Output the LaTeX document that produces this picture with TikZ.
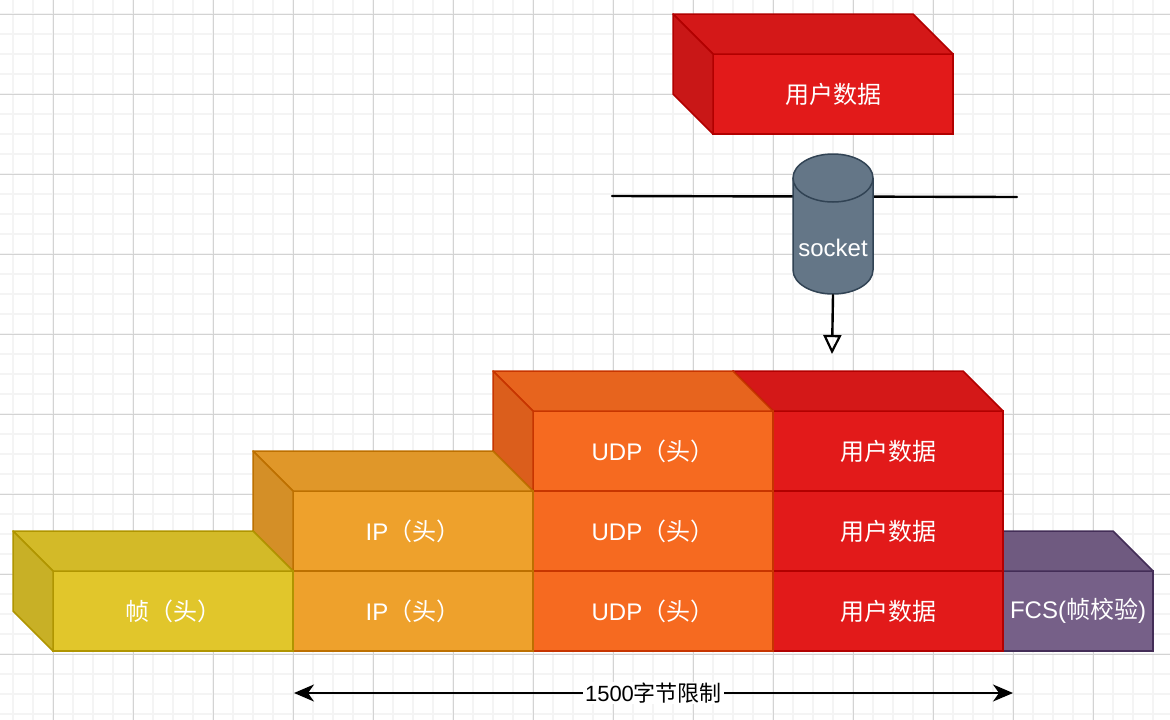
\documentclass[tikz,border=0pt]{standalone}
\usepackage{fontspec}
\setmainfont{Liberation Sans}
\newfontfamily\cjk{Noto Sans CJK SC}
\usetikzlibrary{arrows.meta}
\definecolor{yelF}{HTML}{E1C62B}
\definecolor{yelS}{HTML}{B09500}
\definecolor{ipF}{HTML}{EEA12C}
\definecolor{ipS}{HTML}{BD7000}
\definecolor{udpF}{HTML}{F66A20}
\definecolor{udpS}{HTML}{C73500}
\definecolor{redF}{HTML}{E21A1A}
\definecolor{redS}{HTML}{B20000}
\definecolor{purF}{HTML}{766088}
\definecolor{purS}{HTML}{432D57}
\definecolor{cylF}{HTML}{647687}
\definecolor{cylS}{HTML}{314354}
\definecolor{gridMinor}{HTML}{F4F4F4}
\definecolor{gridMajor}{HTML}{D3D3D3}
\newcommand\blockcube[8]{%
  \node[frontface, fill=#6, draw=#7, minimum width=#4, minimum height=#5, anchor=north west] (#1) at (#2,#3) {#8};
  \draw[faceline, draw=#7, fill=#6!94!black] (#1.north west) -- ++(-40,-40) -- ([shift={(-40,-40)}]#1.north east) -- (#1.north east) -- cycle;
  \draw[faceline, draw=#7, fill=#6!89!black] (#1.north west) -- ++(-40,-40) -- ([shift={(-40,-40)}]#1.south west) -- (#1.south west) -- cycle;
}
\begin{document}
\begin{tikzpicture}[x=1pt,y=-1pt,
  frontface/.style={rectangle, inner sep=0pt, outer sep=0pt, line width=1.5pt, text=white, font=\fontsize{24}{28}\selectfont},
  faceline/.style={line width=1.5pt, line join=round},
  minorgrid/.style={gridMinor, line width=1.6pt},
  majorgrid/.style={gridMajor, line width=1pt},
  blackline/.style={black, line width=2.4pt, line cap=round},
  limitlabel/.style={fill=white, inner xsep=2pt, inner ysep=1pt, text=black, font=\fontsize{22}{26}\selectfont}]
\useasboundingbox (0,0) rectangle (1170,720);
\fill[white] (0,0) rectangle (1170,720);
% grid
\foreach \gx in {13,33,...,1170} \draw[minorgrid] (\gx,0) -- (\gx,720);
\foreach \gy in {14,34,...,720} \draw[minorgrid] (0,\gy) -- (1170,\gy);
\foreach \gx in {53,133,...,1170} \draw[majorgrid] (\gx,0) -- (\gx,720);
\foreach \gy in {14,94,...,720} \draw[majorgrid] (0,\gy) -- (1170,\gy);

% horizontal boundary line through socket
\coordinate (lineL) at (612,196);
\coordinate (lineR) at (1017,197);
\draw[blackline] (lineL) -- (lineR);

% socket cylinder
\fill[cylF] (793,178) rectangle (873,270);
\fill[cylF] (833,270) ellipse [x radius=40, y radius=24];
\draw[cylS, line width=1.5pt] (793,178) -- (793,270) arc[start angle=180, end angle=0, x radius=40, y radius=24] -- (873,178);
\draw[cylS, line width=1.5pt, fill=cylF] (833,178) ellipse [x radius=40, y radius=24];
\node[text=white, font=\fontsize{24}{28}\selectfont, inner sep=0pt] (socketlbl) at (833,248) {socket};
\coordinate (sockbot) at (833,295);
\coordinate (arrowend) at (832,354);
\draw[blackline, -{Triangle[open, length=19pt, width=18pt, line width=2.2pt]}] (sockbot) -- (arrowend);

% top user data
\blockcube{topdata}{713}{54}{240}{80}{redF}{redS}{{\cjk 用户数据}}

% stack: right to left, bottom to top
\blockcube{fcs}{1003}{571}{150}{80}{purF}{purS}{FCS({\cjk 帧校验})}
\blockcube{red3}{773}{571}{230}{80}{redF}{redS}{{\cjk 用户数据}}
\blockcube{red2}{773}{491}{230}{80}{redF}{redS}{{\cjk 用户数据}}
\blockcube{red1}{773}{411}{230}{80}{redF}{redS}{{\cjk 用户数据}}
\blockcube{udp3}{533}{571}{240}{80}{udpF}{udpS}{UDP{\cjk （头）}}
\blockcube{udp2}{533}{491}{240}{80}{udpF}{udpS}{UDP{\cjk （头）}}
\blockcube{udp1}{533}{411}{240}{80}{udpF}{udpS}{UDP{\cjk （头）}}
\blockcube{ip3}{293}{571}{240}{80}{ipF}{ipS}{IP{\cjk （头）}}
\blockcube{ip2}{293}{491}{240}{80}{ipF}{ipS}{IP{\cjk （头）}}
\blockcube{frame}{53}{571}{240}{80}{yelF}{yelS}{{\cjk 帧（头）}}

% 1500 byte limit
\coordinate (limL) at (294,693);
\coordinate (limR) at (1013,693);
\draw[black, line width=2pt, {Stealth[length=20pt, width=17pt, inset=6pt]}-{Stealth[length=20pt, width=17pt, inset=6pt]}] (limL) -- (limR)
  node[midway, limitlabel] (limitlbl) {1500{\cjk 字节限制}};
\end{tikzpicture}
\end{document}
